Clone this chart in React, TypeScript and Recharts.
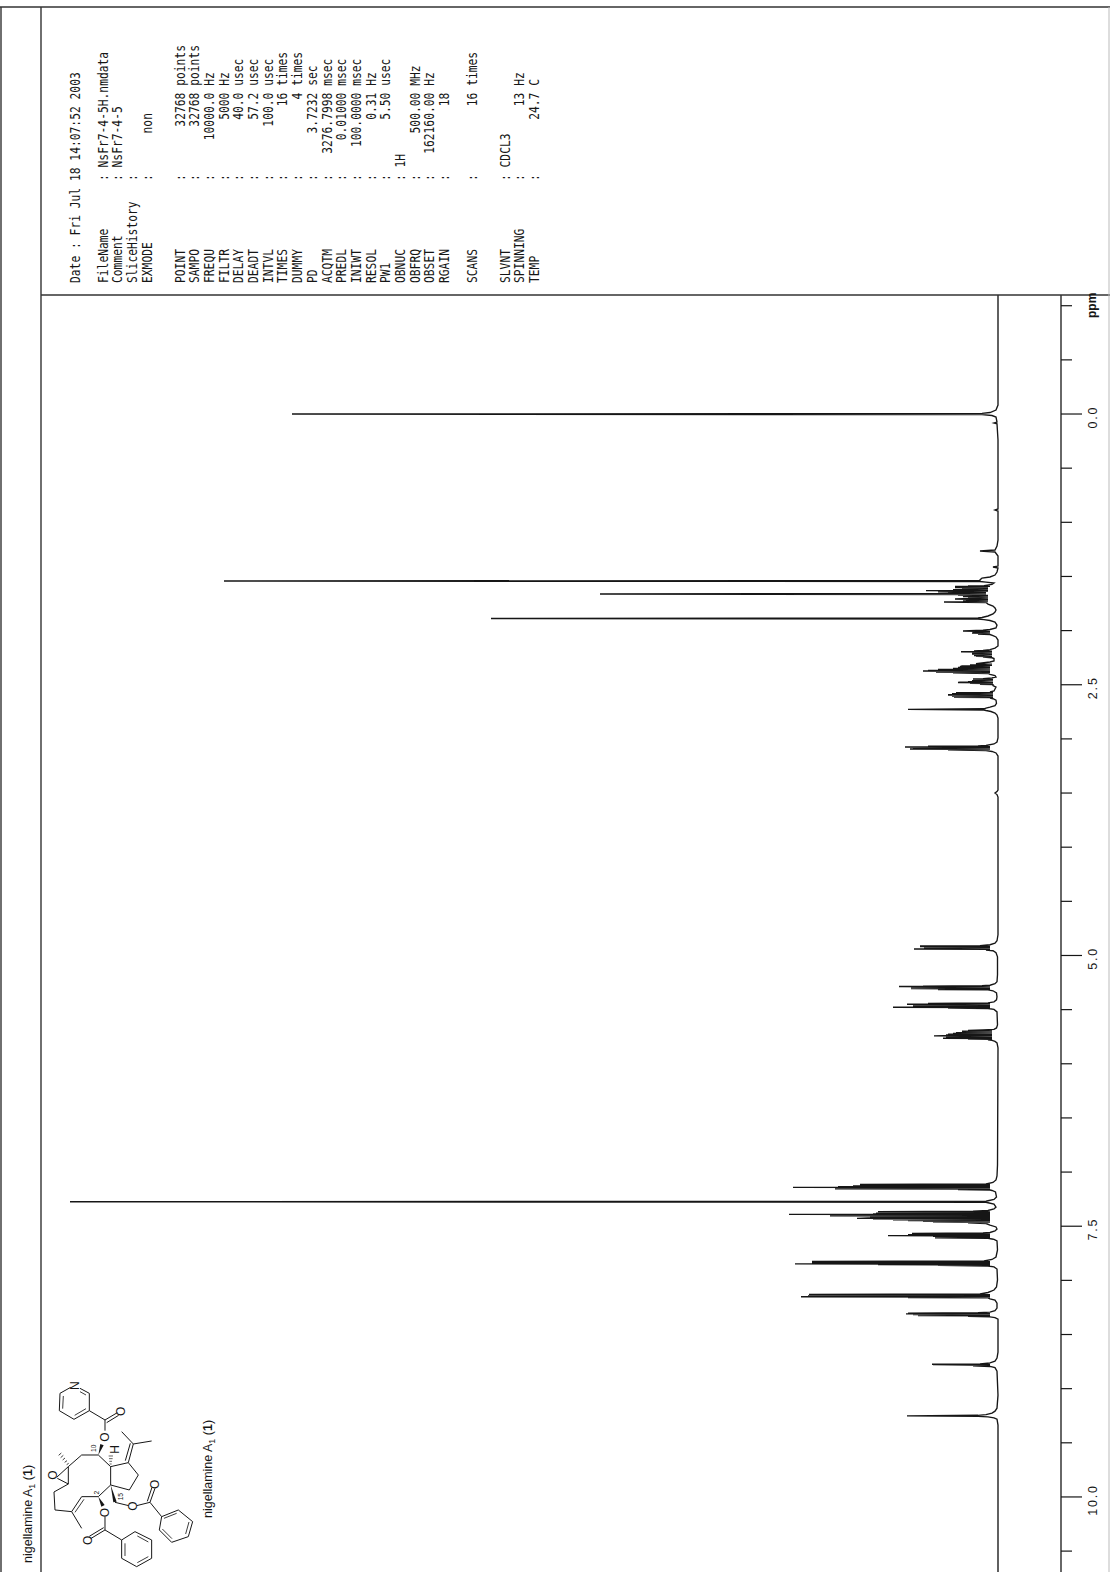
import React from "react";
import { LineChart, Line, XAxis, YAxis } from "recharts";

// ---- spectrum trace: [ppm, intensity] pairs ----
const highFieldTrace: [number, number][] = [
  [-1.099,0],[-0.083,0],[-0.037,2],[-0.014,8],[-0.006,16],[0,706],[0.006,16],[0.014,6],[0.028,2],[0.075,1],[0.083,4],[0.09,1],
  [0.24,0],[0.877,0],[0.887,3],[0.896,0],[1.164,0],[1.219,1],[1.256,3],[1.265,18],[1.274,3],[1.311,0],[1.404,0],[1.413,5],[1.422,0],
  [1.459,1],[1.487,3],[1.505,8],[1.515,16],
];
const methylTrace: [number, number][] = [
  [1.532,18],[1.537,18],[1.542,774],[1.547,18],[1.552,12],[1.561,4],[1.574,6],[1.584,14],
  [1.588,30],[1.591,8],[1.593,43],[1.597,10],[1.602,43],[1.606,10],[1.611,36],[1.616,10],[1.623,45],[1.627,10],[1.631,72],[1.636,10],[1.641,60],[1.648,12],[1.653,50],[1.657,12],[1.662,398],[1.667,12],
  [1.672,40],[1.676,10],[1.681,30],[1.685,35],[1.689,10],[1.695,30],[1.699,10],[1.708,43],[1.713,10],[1.717,32],[1.722,10],[1.727,35],[1.731,10],[1.736,54],[1.741,12],
  [1.755,10],[1.773,5],[1.791,3],[1.81,2],[1.828,3],[1.846,5],[1.865,10],[1.879,16],[1.883,20],[1.888,507],[1.893,20],[1.898,14],[1.907,8],[1.921,3],
  [1.949,1],[1.976,2],[1.99,8],[1.997,15],[2.004,35],[2.008,8],[2.013,25],[2.017,8],[2.022,26],[2.026,8],[2.032,20],[2.036,8],[2.046,5],[2.059,2],
  [2.087,0],[2.142,0],[2.161,3],[2.175,8],
];
const allylicTrace: [number, number][] = [
  [2.184,15],[2.188,24],[2.191,6],[2.195,37],[2.199,6],[2.203,26],[2.206,6],[2.21,26],[2.213,6],[2.216,26],[2.219,6],[2.223,24],[2.226,6],[2.23,24],[2.233,6],[2.237,22],[2.24,6],[2.244,15],[2.251,6],[2.258,4],
  [2.28,4],[2.29,8],[2.299,16],[2.306,22],[2.31,6],[2.316,28],[2.32,6],[2.327,36],[2.332,38],[2.336,8],[2.341,40],[2.345,8],[2.35,45],[2.354,8],[2.358,60],[2.362,8],[2.367,70],[2.371,8],[2.373,75],[2.377,8],[2.382,62],[2.386,8],[2.391,45],[2.396,10],[2.405,8],[2.415,3],[2.428,2],
  [2.436,6],[2.443,15],[2.447,25],[2.45,5],[2.455,24],[2.458,5],[2.463,26],[2.466,5],[2.471,30],[2.474,5],[2.477,38],[2.479,40],[2.482,5],[2.487,28],[2.49,5],[2.495,18],[2.499,5],[2.507,5],[2.521,2],[2.539,3],[2.558,4],[2.567,8],[2.571,5],
  [2.574,42],[2.578,5],[2.583,46],[2.587,5],[2.592,50],[2.595,5],[2.597,50],[2.601,5],[2.606,46],[2.61,5],[2.615,44],[2.619,5],[2.624,8],[2.629,5],[2.643,2],[2.671,1.5],[2.693,3],[2.707,8],[2.716,12],[2.722,14],[2.727,90],[2.733,14],[2.738,12],[2.747,7],[2.761,3],[2.78,1],[2.807,0],
  [2.992,0],[3.029,1],[3.047,4],[3.061,12],[3.066,20],[3.068,70],[3.071,8],[3.075,93],[3.079,8],[3.084,85],[3.088,8],[3.093,88],[3.097,8],[3.102,50],[3.108,12],[3.116,6],[3.13,2],[3.158,0],
  [3.472,0],[3.486,1],[3.5,3],[3.514,1],[3.537,0],
];
const olefinTrace: [number, number][] = [
  [4.809,0],[4.864,1],[4.887,3],[4.901,8],[4.909,18],[4.912,78],[4.915,8],[4.917,78],[4.921,8],[4.926,74],[4.93,8],[4.935,74],[4.938,8],[4.94,84],[4.944,8],[4.95,12],[4.956,5],[4.975,2],[5.012,0.5],
  [5.178,0.5],[5.243,1],[5.261,3],[5.275,8],[5.279,16],[5.283,75],[5.285,8],[5.286,99],[5.291,8],[5.296,87],[5.301,8],[5.305,87],[5.31,8],[5.314,60],[5.318,10],[5.326,5],[5.345,1.5],
  [5.382,1],[5.41,1.5],[5.428,4],[5.437,10],[5.442,70],[5.445,8],[5.45,91],[5.453,8],[5.457,85],[5.46,8],[5.464,85],[5.467,8],[5.471,85],[5.474,8],[5.478,105],[5.481,8],[5.486,50],[5.49,10],[5.498,4],[5.521,1],
  [5.641,0.5],[5.669,1.5],[5.683,4],[5.687,15],[5.692,30],[5.695,6],[5.699,36],[5.702,6],[5.706,36],[5.709,6],[5.713,42],[5.716,6],[5.72,45],[5.723,6],[5.727,50],[5.73,6],[5.734,52],[5.737,6],[5.741,55],[5.743,64],[5.746,6],[5.75,52],[5.753,6],[5.757,50],[5.76,6],[5.764,55],[5.767,6],[5.771,30],[5.775,6],[5.78,10],[5.784,6],[5.793,3],[5.807,1],[5.853,0],
];
const aromaticTrace: [number, number][] = [
  [6.934,0.5],[7.036,1],[7.073,2],[7.096,5],[7.11,12],[7.114,138],[7.117,8],[7.122,138],[7.125,8],[7.129,145],[7.132,8],[7.136,160],[7.139,8],[7.141,205],[7.144,8],[7.148,160],[7.151,8],[7.154,163],[7.157,8],[7.161,40],[7.166,8],[7.17,6],[7.184,2.5],
  [7.23,1.5],[7.253,4],[7.265,10],[7.269,12],[7.274,928],[7.279,12],[7.283,10],[7.295,4],[7.323,2],[7.341,4],[7.355,10],[7.36,25],
  [7.365,120],[7.368,8],[7.372,120],[7.375,8],[7.379,122],[7.382,8],[7.386,125],[7.388,8],[7.39,209],[7.393,8],[7.397,125],[7.4,8],[7.403,168],[7.406,8],[7.41,125],[7.413,8],[7.417,128],[7.42,8],[7.424,130],[7.427,141],[7.43,8],[7.434,125],[7.437,8],[7.441,105],[7.444,8],[7.448,90],[7.451,8],[7.455,75],[7.458,8],[7.462,65],[7.465,8],[7.469,30],[7.475,12],[7.489,8],
  [7.507,2],[7.526,1],[7.544,3],[7.558,8],[7.562,15],[7.566,86],[7.569,8],[7.572,86],[7.575,8],[7.579,90],[7.582,8],[7.587,110],[7.59,8],[7.594,65],[7.597,8],[7.601,63],[7.604,8],[7.608,63],[7.612,10],[7.618,6],[7.622,4],[7.636,1],
  [7.719,0.5],[7.784,2],[7.807,6],[7.821,14],[7.825,186],[7.828,8],[7.832,186],[7.835,8],[7.84,186],[7.843,8],[7.848,203],[7.851,8],[7.855,120],[7.858,8],[7.862,60],[7.867,10],[7.876,4],[7.895,1],
  [7.996,0.5],[8.061,1.5],[8.089,4],[8.112,10],[8.126,18],[8.129,189],[8.132,8],[8.136,189],[8.139,8],[8.143,190],[8.146,8],[8.151,197],[8.154,8],[8.158,90],[8.162,10],[8.171,8],[8.182,3],[8.21,1],
  [8.256,1],[8.279,3],[8.293,8],[8.299,20],[8.302,90],[8.305,8],[8.309,92],[8.312,8],[8.317,85],[8.32,8],[8.325,80],[8.328,8],[8.333,30],[8.337,8],[8.344,3],[8.358,0],
];
const downfieldTrace: [number, number][] = [
  [8.663,0],[8.718,1],[8.746,3],[8.762,8],[8.771,18],[8.775,66],[8.777,8],[8.781,65],[8.785,8],[8.79,25],[8.795,8],[8.806,3],[8.839,1],
  [9.06,0],[9.18,1],[9.208,3],[9.226,6],[9.24,12],[9.246,20],[9.251,91],[9.256,20],[9.261,10],[9.269,4],[9.282,1],[9.337,0],[10.693,0],
];

const ppmTicks = [-1,-0.5,0,0.5,1,1.5,2,2.5,3,3.5,4,4.5,5,5.5,6,6.5,7,7.5,8,8.5,9,9.5,10,10.5];
const ppmMajorLabels: Record<string,string> = { "0":"0.0", "2.5":"2.5", "5":"5.0", "7.5":"7.5", "10":"10.0" };

const traceRows = [...highFieldTrace, ...methylTrace, ...allylicTrace, ...olefinTrace, ...aromaticTrace, ...downfieldTrace]
  .map(([ppm, intensity]) => ({ ppm, intensity }));

// ---- acquisition parameters ----
const dateLine = "Date : Fri Jul 18 14:07:52 2003";
const fileLines = [
  "FileName       : NsFr7-4-5H.nmdata",
  "Comment        : NsFr7-4-5",
  "SliceHistory   :",
  "EXMODE         :      non",
];
const paramLines = [
  "POINT          :       32768 points",
  "SAMPO          :       32768 points",
  "FREQU          :     10000.0 Hz",
  "FILTR          :        5000 Hz",
  "DELAY          :        40.0 usec",
  "DEADT          :        57.2 usec",
  "INTVL          :       100.0 usec",
  "TIMES          :          16 times",
  "DUMMY          :           4 times",
  "PD             :      3.7232 sec",
  "ACQTM          :   3276.7998 msec",
  "PREDL          :     0.01000 msec",
  "INIWT          :    100.0000 msec",
  "RESOL          :        0.31 Hz",
  "PW1            :        5.50 usec",
  "OBNUC          : 1H",
  "OBFRQ          :      500.00 MHz",
  "OBSET          :   162160.00 Hz",
  "RGAIN          :          18",
];
const scanLine = "SCANS          :          16 times";
const solventLines = [
  "SLVNT          : CDCL3",
  "SPINNING       :          13 Hz",
  "TEMP           :        24.7 C",
];
const compoundName = "nigellamine A";

const INK = "#161616";

const PpmTick = (props: any) => {
  const { x, y, payload } = props;
  const label = ppmMajorLabels[String(payload.value)];
  return (
    <g>
      <line x1={x} x2={x + (label ? 21 : 11)} y1={y} y2={y} stroke={INK} strokeWidth={1.2} />
      {label ? (
        <text
          transform={`translate(1097,${y + 3}) rotate(-90)`}
          textAnchor="middle"
          fontFamily="Liberation Sans"
          fontSize={12.5}
          letterSpacing={1.8}
          fill={INK}
        >
          {label}
        </text>
      ) : null}
    </g>
  );
};

const MonoLine = ({ x, text }: { x: number; text: string }) => (
  <text
    transform={`translate(${x + 4.5},283) rotate(-90) scale(0.85,1)`}
    fontFamily="DejaVu Sans Mono"
    fontSize={13.3}
    fill={INK}
    style={{ whiteSpace: "pre" }}
  >
    {text}
  </text>
);

const NameLabel = ({ x, y }: { x: number; y: number }) => (
  <text transform={`translate(${x},${y}) rotate(-90)`} fontFamily="Liberation Sans" fontSize={12.5} fill={INK}>
    {compoundName}
    <tspan fontSize={9} dy={3}>1</tspan>
    <tspan dy={-3}> (</tspan>
    <tspan fontWeight="bold">1</tspan>
    <tspan>)</tspan>
  </text>
);

const bond = (d: string, w = 3) => <path d={d} fill="none" stroke={INK} strokeWidth={w} strokeLinejoin="round" />;

const Structure = () => (
  <g transform="translate(0,1340) scale(0.3333)">
    {/* pyridine */}
    {bond("M212 142 L180 160 L178 212 L222 238 L268 212 L268 160 L240 145")}
    {bond("M190 168 L188 206 M224 226 L258 206 M258 165 L240 155", 2.5)}
    {bond("M268 212 L315 240 L315 272 M315 240 L352 218 M320 248 L356 226")}
    {/* ring */}
    {bond("M295 345 L245 345 L205 380 L205 432 L162 456 L165 510 L215 515 L245 470 L295 470 L332 435 L332 380 L295 345")}
    {bond("M225 517 L252 478", 2.5)}
    {bond("M215 515 L245 565")}
    {bond("M205 380 L170 412 M205 432 L172 415")}
    {bond("M332 380 L385 368 L415 405 L388 450 L332 435")}
    {bond("M385 368 L400 312 M376 362 L391 310 M400 312 L365 275 M400 312 L455 303")}
    {/* bold and hashed bonds */}
    <path d="M295 345 L301 312 L311 316 Z" fill={INK} />
    <path d="M295 470 L304 500 L314 495 Z" fill={INK} />
    <path d="M332 435 L340 487 L350 485 Z" fill={INK} />
    <path d="M200 374 L206 370 M194 367 L201 362 M188 360 L195 354 M182 353 L190 346 M176 346 L184 339" stroke={INK} strokeWidth={2.5} />
    <path d="M329 372 L335 372 M328 364 L336 364 M327 356 L338 356 M326 348 L339 348" stroke={INK} strokeWidth={2} />
    {/* benzoates */}
    {bond("M315 530 L315 570 L272 596 M311 563 L268 589 M315 570 L365 600 L405 575 L455 600 L455 655 L410 680 L365 655 L365 600")}
    {bond("M375 610 L375 648 M412 588 L445 606 M412 668 L445 650", 2.5)}
    {bond("M345 487 L386 497 M410 497 L450 487 L465 445 M442 484 L456 442 M450 487 L485 530 L535 510 L578 545 L565 590 L515 607 L478 570 L485 530")}
    {bond("M492 535 L530 520 M567 546 L557 582 M516 596 L487 567", 2.5)}
    <g fontFamily="Liberation Sans" fontSize={36} fill={INK} textAnchor="middle">
      <text transform="translate(237,137) rotate(-90)">N</text>
      <text transform="translate(375,214) rotate(-90)" >O</text>
      <text transform="translate(328,291) rotate(-90)">O</text>
      <text transform="translate(170,405) rotate(-90)">O</text>
      <text transform="translate(357,328) rotate(-90)">H</text>
      <text transform="translate(328,518) rotate(-90)">O</text>
      <text transform="translate(275,601) rotate(-90)">O</text>
      <text transform="translate(411,498) rotate(-90)">O</text>
      <text transform="translate(477,433) rotate(-90)">O</text>
    </g>
    <g fontFamily="Liberation Sans" fontSize={20} fill={INK} textAnchor="middle">
      <text transform="translate(289,325) rotate(-90)">10</text>
      <text transform="translate(297,458) rotate(-90)">2</text>
      <text transform="translate(369,470) rotate(-90)">15</text>
    </g>
  </g>
);

export default function App() {
  return (
    <div style={{ position: "absolute", left: 0, top: 0, width: 1110, height: 1572, background: "#fff", overflow: "hidden" }}>
      <LineChart
        layout="vertical"
        width={1110}
        height={1572}
        data={traceRows}
        margin={{ top: 295, right: 0, bottom: 0, left: 42 }}
      >
        <XAxis type="number" hide domain={[-63, 956]} reversed />
        <YAxis
          type="number"
          dataKey="ppm"
          orientation="right"
          width={49}
          domain={[-1.099, 10.693]}
          ticks={ppmTicks}
          interval={0}
          tickLine={false}
          tickSize={0}
          tickMargin={0}
          axisLine={{ stroke: INK, strokeWidth: 1.3 }}
          tick={<PpmTick />}
        />
        <Line dataKey="intensity" type="linear" dot={false} stroke={INK} strokeWidth={1.35} strokeLinejoin="miter" isAnimationActive={false} />
      </LineChart>
      <svg width={1110} height={1572} style={{ position: "absolute", left: 0, top: 0, pointerEvents: "none" }}>
        <line x1={0} x2={1110} y1={7} y2={7} stroke="#333" strokeWidth={1.6} />
        <line x1={1} x2={1} y1={7} y2={1572} stroke="#333" strokeWidth={1.4} />
        <line x1={41} x2={41} y1={7} y2={1572} stroke="#333" strokeWidth={1.4} />
        <line x1={41} x2={1110} y1={295} y2={295} stroke="#333" strokeWidth={1.5} />
        <line x1={1109} x2={1109} y1={7} y2={1572} stroke="#bbb" strokeWidth={1} />
        <MonoLine x={75} text={dateLine} />
        {fileLines.map((t, i) => <MonoLine key={t} x={103 + i * 14.7} text={t} />)}
        {paramLines.map((t, i) => <MonoLine key={t} x={180 + i * 14.7} text={t} />)}
        <MonoLine x={472} text={scanLine} />
        {solventLines.map((t, i) => <MonoLine key={t} x={505 + i * 14.7} text={t} />)}
        <text transform="translate(1096,318) rotate(-90)" fontFamily="Liberation Sans" fontSize={12} fontWeight="bold" fill={INK}>ppm</text>
        <NameLabel x={32} y={1563} />
        <NameLabel x={212} y={1518} />
        <Structure />
      </svg>
    </div>
  );
}
